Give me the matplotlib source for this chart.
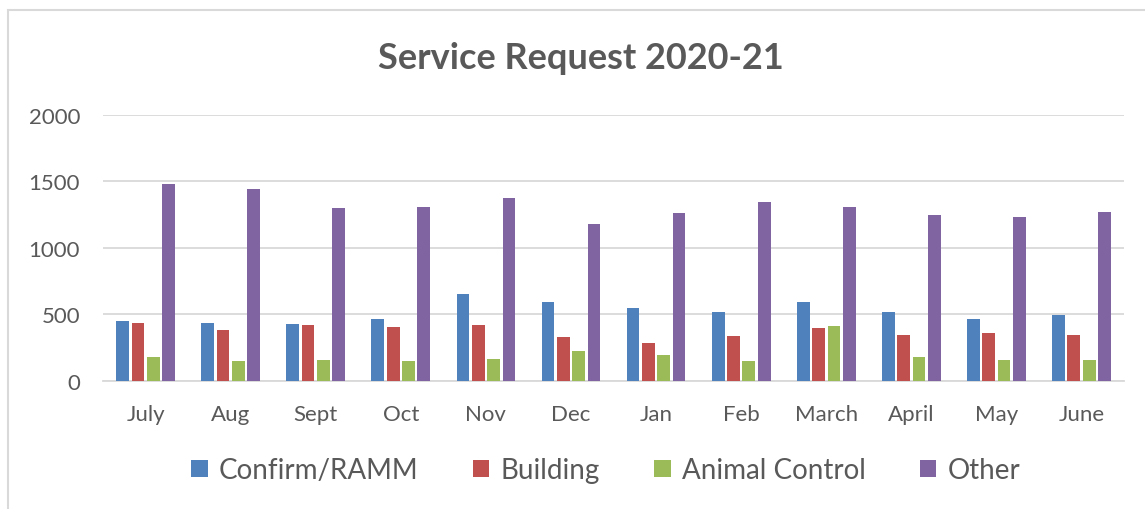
import matplotlib
matplotlib.use("Agg")
import matplotlib.pyplot as plt
import numpy as np
from matplotlib.patches import Rectangle

months = ["July", "Aug", "Sept", "Oct", "Nov", "Dec", "Jan", "Feb", "March", "April", "May", "June"]
confirm_ramm = [448, 438, 428, 464, 655, 597, 547, 522, 597, 522, 466, 496]
building = [438, 383, 421, 406, 421, 330, 282, 338, 398, 348, 363, 348]
animal_control = [181, 149, 156, 149, 166, 222, 199, 149, 413, 181, 156, 156]
other = [1484, 1444, 1303, 1310, 1378, 1177, 1260, 1343, 1310, 1245, 1230, 1270]

series = [("Confirm/RAMM", confirm_ramm, "#4F81BD"),
          ("Building", building, "#C0504D"),
          ("Animal Control", animal_control, "#9BBB59"),
          ("Other", other, "#8064A2")]

plt.rcParams['font.family'] = ['Lato', 'DejaVu Sans']
grey = "#595959"

fig = plt.figure(figsize=(11.45, 5.1), dpi=100, facecolor="w")
ax = fig.add_axes([0.09, 0.251, 0.8917, 0.5216])

x = np.arange(len(months))
step = 0.18
for i, (label, vals, col) in enumerate(series):
    ax.bar(x + (i - 1.5) * step, vals, width=0.15, color=col, label=label, zorder=3)

ax.set_xlim(-0.5, len(months) - 0.5)
ax.set_ylim(0, 2000)
ax.set_yticks([0, 500, 1000, 1500, 2000])
ax.yaxis.grid(True, color="#d9d9d9", linewidth=1.3, zorder=0)
ax.set_xticks(x)
ax.set_xticklabels(months)
ax.tick_params(axis="both", length=0, labelsize=16, colors=grey)
ax.tick_params(axis="x", pad=16.5)
ax.tick_params(axis="y", pad=16.5)
for s in ["top", "right", "left"]:
    ax.spines[s].set_visible(False)
ax.spines["bottom"].set_color("#d9d9d9")
ax.spines["bottom"].set_linewidth(1.3)

fig.text(0.507, 0.886, "Service Request 2020-21", ha="center", va="center",
         fontsize=26, fontweight="bold", color=grey)

leg = fig.legend(loc="center", bbox_to_anchor=(0.529, 0.076), ncol=4, frameon=False,
                 fontsize=20, handlelength=0.6, handleheight=0.6, handletextpad=0.4,
                 columnspacing=1.95, labelcolor=grey)

# chart border (only top/left edges fall inside the image)
fig.patches.append(Rectangle((8 / 1145, -0.2), 1.2, 0.2 + 1 - 11 / 510, transform=fig.transFigure,
                             fill=False, edgecolor="#d9d9d9", linewidth=1.5))

plt.savefig("out.png")
